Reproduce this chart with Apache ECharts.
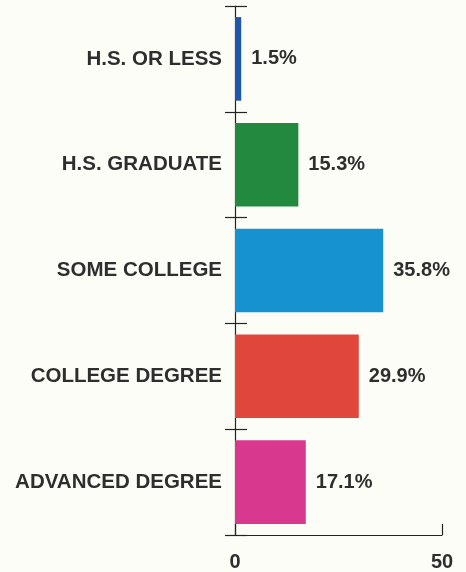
<!DOCTYPE html>
<html>
<head>
<meta charset="utf-8">
<script src="https://cdn.jsdelivr.net/npm/echarts@6/dist/echarts.min.js"></script>
<style>
html,body{margin:0;padding:0;background:#fdfdf8;}
#c{width:466px;height:572px;}
</style>
</head>
<body>
<div id="c"></div>
<script>
const categories = ['H.S. OR LESS', 'H.S. GRADUATE', 'SOME COLLEGE', 'COLLEGE DEGREE', 'ADVANCED DEGREE'];
const values = [1.5, 15.3, 35.8, 29.9, 17.1];
const barColors = ['#1f58ab', '#23893f', '#1692d0', '#e0463a', '#d9388f'];
const xTicks = [0, 50];

const font = 'Liberation Sans, Arial, sans-serif';
const chart = echarts.init(document.getElementById('c'));
chart.setOption({
  backgroundColor: '#fdfdf8',
  animation: false,
  grid: {left: 235, right: 24, top: 6, bottom: 33, containLabel: false},
  xAxis: {
    type: 'value', min: xTicks[0], max: xTicks[xTicks.length - 1], interval: xTicks[1] - xTicks[0],
    splitLine: {show: false},
    axisLine: {show: true, lineStyle: {color: '#222', width: 1.2}},
    axisTick: {show: true, inside: true, length: 11, lineStyle: {color: '#222', width: 1.2}},
    axisLabel: {color: '#2e2e2e', fontSize: 20, fontWeight: 'bold', fontFamily: font, margin: 17}
  },
  yAxis: [{
    type: 'category', data: categories, inverse: true,
    axisLine: {show: true, lineStyle: {color: '#222', width: 1.2}},
    axisTick: {show: true, length: 10, lineStyle: {color: '#222', width: 1.2}},
    axisLabel: {color: '#2e2e2e', fontSize: 20.5, fontWeight: 'bold', fontFamily: font, margin: 13}
  }, {
    type: 'category', data: categories, inverse: true, position: 'left',
    axisLine: {show: false},
    axisTick: {show: true, inside: true, length: 12, lineStyle: {color: '#222', width: 1.2}},
    axisLabel: {show: false}
  }],
  series: [{
    type: 'bar',
    yAxisIndex: 0,
    data: values.map((v, i) => ({value: v, itemStyle: {color: barColors[i]}})),
    barCategoryGap: '21%',
    label: {
      show: true, position: 'right', distance: 10,
      formatter: p => p.value.toFixed(1) + '%',
      color: '#2e2e2e', fontSize: 20, fontWeight: 'bold', fontFamily: font
    }
  }]
});
</script>
</body>
</html>
